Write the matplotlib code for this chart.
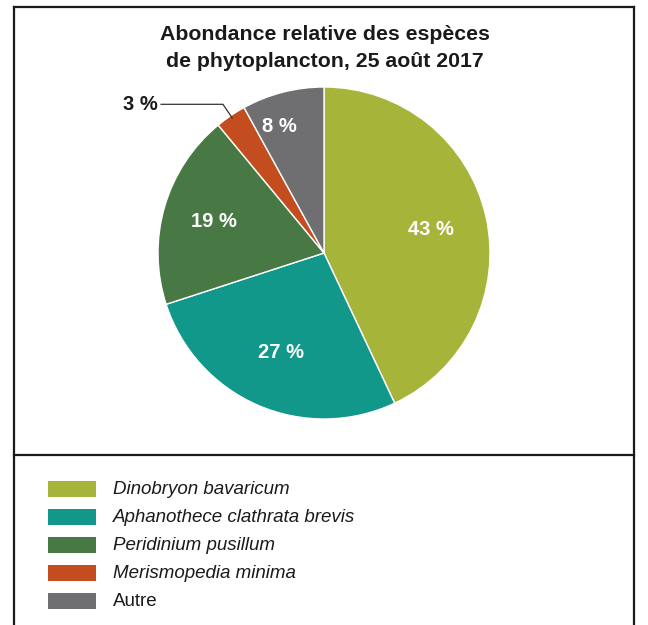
import numpy as np
import matplotlib
matplotlib.use("Agg")
import matplotlib.pyplot as plt
from matplotlib.patches import Rectangle
from matplotlib.lines import Line2D

plt.rcParams['font.family'] = ['Liberation Sans', 'DejaVu Sans']

title = "Abondance relative des espèces\nde phytoplancton, 25 août 2017"
species = ["Dinobryon bavaricum", "Aphanothece clathrata brevis",
           "Peridinium pusillum", "Merismopedia minima", "Autre"]
italic = [True, True, True, True, False]
percent = [43, 27, 19, 3, 8]
colors = ["#a6b43a", "#12978b", "#487944", "#c44d1f", "#6f6e70"]

W, H = 648, 625
fig = plt.figure(figsize=(W / 100, H / 100), dpi=100)
fig.patch.set_facecolor("white")

def fx(px):
    return px / W

def fy(py):
    return 1 - py / H

# outer frame and divider between chart and legend
frame_col = "#1a1a1a"
fig.add_artist(Line2D([fx(14), fx(14)], [fy(7), fy(630)], color=frame_col, lw=1.6))
fig.add_artist(Line2D([fx(634), fx(634)], [fy(7), fy(630)], color=frame_col, lw=1.6))
fig.add_artist(Line2D([fx(14), fx(634)], [fy(7), fy(7)], color=frame_col, lw=1.6))
fig.add_artist(Line2D([fx(14), fx(634)], [fy(455), fy(455)], color=frame_col, lw=1.6))

fig.text(fx(325), fy(48), title, ha="center", va="center", fontsize=15.3,
         fontweight="bold", color="#1a1a1a", linespacing=1.55)

# pie axes: center (324, 253), radius 166 px
cx, cy, r = 324, 253, 166
ax = fig.add_axes([fx(cx - r), fy(cy + r), 2 * r / W, 2 * r / H])
ax.axis("off")

wedges, _ = ax.pie(percent, colors=colors, startangle=90, counterclock=False,
                   radius=1.0, wedgeprops=dict(edgecolor="white", linewidth=1.0))
ax.set_xlim(-1, 1)
ax.set_ylim(-1, 1)
ax.set_aspect("equal")

# in-slice labels: (radial distance, angular nudge in degrees)
label_place = [(0.66, 0), (0.65, 0), (0.69, 0), None, (0.81, 5.2)]
for w, p, place in zip(wedges, percent, label_place):
    mid = np.deg2rad((w.theta1 + w.theta2) / 2)
    if place is None:
        # small slice: label outside with a leader line
        ex, ey = 0.98 * np.cos(mid), 0.98 * np.sin(mid)
        kx, ky = 1.083 * np.cos(mid), 1.083 * np.sin(mid)
        tx = -0.985
        ax.plot([ex, kx, tx], [ey, ky, ky], color="#333333", lw=0.9,
                clip_on=False, solid_capstyle="butt")
        ax.text(tx - 0.015, ky, f"{p} %", ha="right", va="center",
                fontsize=14.5, fontweight="bold", color="#1a1a1a")
        continue
    d, nudge = place
    a = mid + np.deg2rad(nudge)
    ax.text(d * np.cos(a), d * np.sin(a), f"{p} %", ha="center", va="center",
            fontsize=14.5, fontweight="bold", color="white")

# legend
y0, step = 489, 28
for i, (name, col, it) in enumerate(zip(species, colors, italic)):
    yc = y0 + i * step
    fig.add_artist(Rectangle((fx(48), fy(yc + 8)), 48 / W, 16 / H,
                             facecolor=col, edgecolor="none"))
    fig.text(fx(113), fy(yc), name, ha="left", va="center", fontsize=13.5,
             style="italic" if it else "normal", color="#1a1a1a")

fig.savefig("out.png", dpi=100, facecolor="white")
